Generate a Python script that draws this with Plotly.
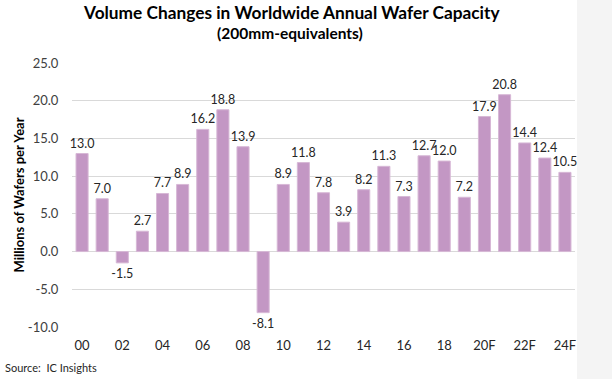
import plotly.graph_objects as go

years = ["00","01","02","03","04","05","06","07","08","09","10","11","12","13","14","15","16","17","18","19","20F","21F","22F","23F","24F"]
values = [13.0, 7.0, -1.5, 2.7, 7.7, 8.9, 16.2, 18.8, 13.9, -8.1, 8.9, 11.8, 7.8, 3.9, 8.2, 11.3, 7.3, 12.7, 12.0, 7.2, 17.9, 20.8, 14.4, 12.4, 10.5]
tick_labels = ["00","02","04","06","08","10","12","14","16","18","20F","22F","24F"]
y_ticks = [-10, -5, 0, 5, 10, 15, 20, 25]

FONT = "Lato, 'Open Sans', sans-serif"

fig = go.Figure(go.Bar(
    x=years, y=values,
    marker=dict(color="#C397C4", line=dict(color="#D7B8D6", width=1)),
    text=[f"{v:.1f}" for v in values],
    textposition="outside",
    textangle=0,
    textfont=dict(size=12.5, color="#262626", family=FONT),
    cliponaxis=False,
))

fig.update_layout(
    width=612, height=379,
    margin=dict(l=72, r=37, t=63, b=52),
    paper_bgcolor="white", plot_bgcolor="white",
    bargap=0.4,
    showlegend=False,
    uniformtext=dict(minsize=12.5, mode="show"),
    font=dict(family=FONT, color="#262626"),
    xaxis=dict(
        type="category", tickmode="array", tickvals=tick_labels, ticktext=tick_labels,
        ticks="outside", ticklen=6, tickcolor="rgba(0,0,0,0)", automargin=False,
        tickfont=dict(size=13, color="#262626"), showgrid=False, zeroline=False,
    ),
    yaxis=dict(
        range=[-10, 25], tickvals=y_ticks, ticktext=[f"{v:.1f}" for v in y_ticks],
        ticks="outside", ticklen=10, tickcolor="rgba(0,0,0,0)", automargin=False,
        tickfont=dict(size=13, color="#404040"),
        showgrid=True, gridcolor="#D9D9D9", gridwidth=1,
        zeroline=True, zerolinecolor="#D9D9D9", zerolinewidth=1,
        title=dict(text="<b>Millions of Wafers per Year</b>", font=dict(size=13, color="#000000"), standoff=0),
    ),
)

fig.add_shape(type="rect", xref="paper", yref="paper", x0=(577-72)/503, x1=(612-72)/503 + 0.01,
              y0=-1, y1=2, fillcolor="#F4F4F4", line=dict(width=0), layer="below")

fig.add_annotation(text="<b>Volume Changes in Worldwide Annual Wafer Capacity</b>", xref="paper", yref="paper",
                   x=(291-72)/503, y=1 + (63-13)/264, showarrow=False, font=dict(size=17.3, color="#000000"),
                   xanchor="center", yanchor="middle")
fig.add_annotation(text="<b>(200mm-equivalents)</b>", xref="paper", yref="paper",
                   x=(290-72)/503, y=1 + (63-33)/264, showarrow=False, font=dict(size=15.5, color="#000000"),
                   xanchor="center", yanchor="middle")
fig.add_annotation(text="Source:  IC Insights", xref="paper", yref="paper",
                   x=-(72-3)/503, y=-(367-327)/264, showarrow=False, font=dict(size=11, color="#262626"),
                   xanchor="left", yanchor="middle")

fig.write_html("out.html", config={"displayModeBar": False},
               post_script="document.body.style.margin='0';document.body.style.overflow='hidden';")
